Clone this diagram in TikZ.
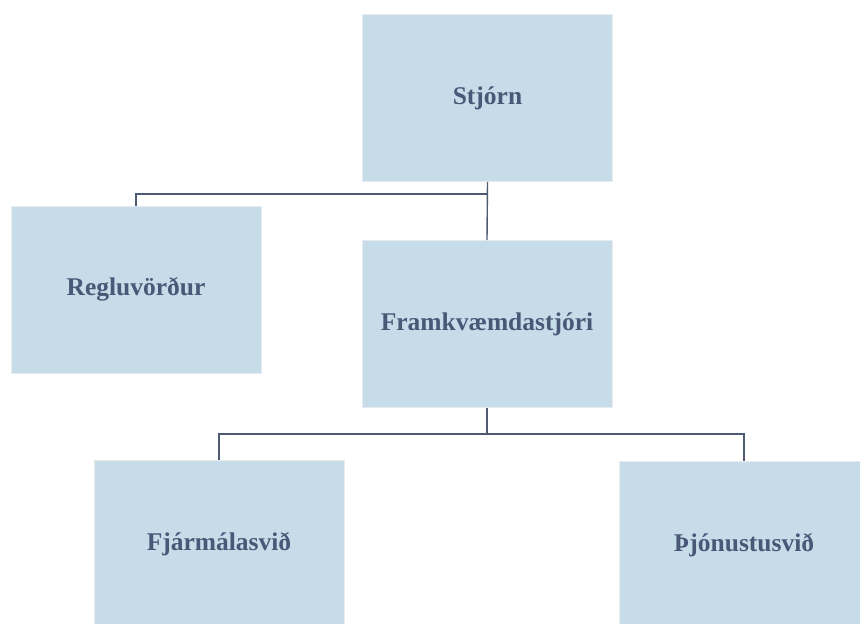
\documentclass[tikz,border=0pt]{standalone}
\usepackage{fontspec}
\setmainfont{Liberation Serif}
\definecolor{boxfill}{HTML}{C6DDE9}
\definecolor{boxedge}{HTML}{E8ECEF}
\definecolor{txt}{HTML}{4A5878}
\definecolor{conn}{HTML}{4E5A72}
\tikzset{
  orgbox/.style={rectangle, fill=boxfill, draw=boxedge, line width=1pt,
    minimum width=250pt, minimum height=167pt, inner sep=0pt,
    text=txt, font=\fontsize{25.5}{30}\selectfont\bfseries},
  conline/.style={draw=conn, line width=1.4pt}
}
\begin{document}
\begin{tikzpicture}[x=1pt,y=-1pt]
\useasboundingbox (0,0) rectangle (860,624);
\clip (0,0) rectangle (860,624);
\fill[white] (0,0) rectangle (860,624);
\node[orgbox] (stj) at (487.5,98) {Stjórn};
\node[orgbox] (reg) at (136,289.5) {Regluvörður};
\node[orgbox] (fram) at (487,324) {Framkvæmdastjóri};
\node[orgbox] (fin) at (219,544) {Fjármálasvið};
\node[orgbox] (thj) at (744,545) {Þjónustusvið};
\coordinate (j1) at (487.5,194);
\coordinate (j2) at (487,434);
\draw[conline] (stj.south) -- (fram.north);
\draw[conline] (reg.north) |- (j1);
\draw[conline] (fram.south) -- (j2);
\draw[conline] (fin.north) |- (j2) -| (thj.north);
\end{tikzpicture}
\end{document}
